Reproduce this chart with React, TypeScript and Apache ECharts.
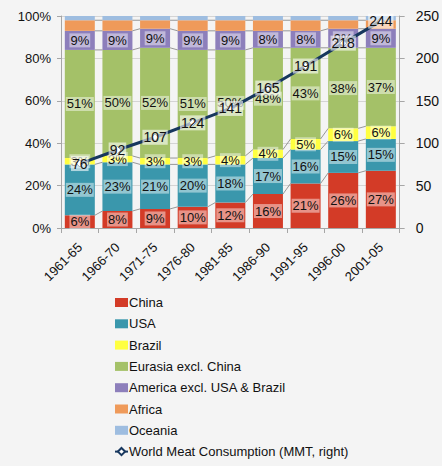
import React, { useEffect, useRef } from "react";
import * as echarts from "echarts";

const categories = ["1961-65", "1966-70", "1971-75", "1976-80", "1981-85", "1986-90", "1991-95", "1996-00", "2001-05"];
const china = [6, 8, 9, 10, 12, 16, 21, 26, 27];
const usa = [24, 23, 21, 20, 18, 17, 16, 15, 15];
const brazil = [3, 3, 3, 3, 4, 4, 5, 6, 6];
const eurasia = [51, 50, 52, 51, 50, 48, 43, 38, 37];
const america = [9, 9, 9, 9, 9, 8, 8, 9, 9];
const africa = [5, 5, 4, 5, 5, 5, 5, 4, 4];
const oceania = [2, 2, 2, 2, 2, 2, 2, 2, 2];
const worldMeat = [76, 92, 107, 124, 141, 165, 191, 218, 244];
const leftTicks = [0, 20, 40, 60, 80, 100];
const rightTicks = [0, 50, 100, 150, 200, 250];

const FONT = "Liberation Sans";
const BAR_W = 30;

export default function App() {
  const ref = useRef<HTMLDivElement>(null);
  useEffect(() => {
    document.body.style.margin = "0";
    const chart = echarts.init(ref.current!, null, { renderer: "svg" });
    const stacks = [
      { name: "China", data: china, color: "#d33b27", label: true },
      { name: "USA", data: usa, color: "#3a97ac", label: true },
      { name: "Brazil", data: brazil, color: "#ffff40", label: true },
      { name: "Eurasia excl. China", data: eurasia, color: "#a4c168", label: true },
      { name: "America excl. USA & Brazil", data: america, color: "#8d7fbb", label: true },
      { name: "Africa", data: africa, color: "#ef9a5a", label: false },
      { name: "Oceania", data: oceania, color: "#9ebde0", label: false },
    ];
    const cum = categories.map((_, i) => {
      let s = 0;
      const out: number[] = [];
      for (let k = 0; k < 6; k++) {
        s += stacks[k].data[i];
        out.push(s);
      }
      return out;
    });
    const seriesLineData = categories.slice(0, -1).map((_, i) => [i, ...cum[i], ...cum[i + 1]]);

    const barSeries = stacks.map((s) => ({
      name: s.name,
      type: "bar",
      stack: "share",
      barWidth: BAR_W,
      data: s.data,
      itemStyle: { color: s.color },
      label: {
        show: s.label,
        position: "inside",
        formatter: "{c}%",
        fontFamily: FONT,
        fontSize: 13,
        color: "#111",
        backgroundColor: "rgba(255,255,255,0.45)",
        padding: [1, 1, 0, 1],
      },
    }));

    chart.setOption({
      animation: false,
      backgroundColor: "#f4f4f4",
      textStyle: { fontFamily: FONT },
      grid: { left: 61, right: 33, top: 16, bottom: 238, containLabel: false },
      legend: {
        orient: "vertical",
        left: 109,
        top: 291,
        height: 220,
        itemWidth: 13,
        itemHeight: 9,
        itemGap: 8.3,
        textStyle: { fontFamily: FONT, fontSize: 13, color: "#111", padding: [0, 0, 0, -4] },
        data: [
          ...stacks.map((s) => ({ name: s.name, icon: "rect" })),
          { name: "World Meat Consumption (MMT, right)" },
        ],
      },
      xAxis: {
        type: "category",
        data: categories,
        axisLine: { lineStyle: { color: "#a6a6a6" } },
        axisTick: { show: true, length: 5, lineStyle: { color: "#a6a6a6" } },
        axisLabel: { rotate: 45, fontFamily: FONT, fontSize: 13, color: "#111", margin: 17 },
      },
      yAxis: [
        {
          type: "value",
          min: 0,
          max: 100,
          interval: 20,
          axisLine: { show: true, lineStyle: { color: "#a6a6a6" } },
          axisTick: { show: true, length: 4, lineStyle: { color: "#a6a6a6" } },
          axisLabel: { formatter: (v: number) => (leftTicks.includes(v) ? v + "%" : ""), fontFamily: FONT, fontSize: 13, color: "#111", margin: 10 },
          splitLine: { show: true, lineStyle: { color: "#d4d4d4" } },
        },
        {
          type: "value",
          min: 0,
          max: 250,
          interval: 50,
          position: "right",
          axisLine: { show: true, lineStyle: { color: "#a6a6a6" } },
          axisTick: { show: true, length: 5, lineStyle: { color: "#a6a6a6" } },
          axisLabel: { formatter: (v: number) => (rightTicks.includes(v) ? String(v) : ""), fontFamily: FONT, fontSize: 14, color: "#111", margin: 16 },
          splitLine: { show: false },
        },
      ],
      series: [
        ...barSeries,
        {
          type: "custom",
          name: "seriesLines",
          xAxisIndex: 0,
          yAxisIndex: 0,
          silent: true,
          z: 3,
          data: seriesLineData,
          encode: { x: 0, y: 1 },
          renderItem: (params: any, api: any) => {
            const i = api.value(0);
            const children: any[] = [];
            for (let k = 0; k < 6; k++) {
              const p1 = api.coord([i, api.value(1 + k)]);
              const p2 = api.coord([i + 1, api.value(7 + k)]);
              children.push({
                type: "line",
                shape: { x1: p1[0] + BAR_W / 2, y1: p1[1], x2: p2[0] - BAR_W / 2, y2: p2[1] },
                style: { stroke: "#7f7f7f", lineWidth: 0.8 },
              });
            }
            return { type: "group", children };
          },
        },
        {
          name: "World Meat Consumption (MMT, right)",
          type: "line",
          yAxisIndex: 1,
          data: worldMeat,
          z: 10,
          symbol: "diamond",
          symbolSize: 7,
          lineStyle: { color: "#17375e", width: 3 },
          itemStyle: { color: "#ffffff", borderColor: "#17375e", borderWidth: 1 },
          label: {
            show: true,
            position: "inside",
            fontFamily: FONT,
            fontSize: 14,
            color: "#111",
            backgroundColor: "rgba(255,255,255,0.6)",
            padding: [1, 1, 0, 1],
          },
        },
      ],
    });
    return () => chart.dispose();
  }, []);
  return <div ref={ref} style={{ position: "absolute", left: 0, top: 0, width: 442, height: 466 }} />;
}
